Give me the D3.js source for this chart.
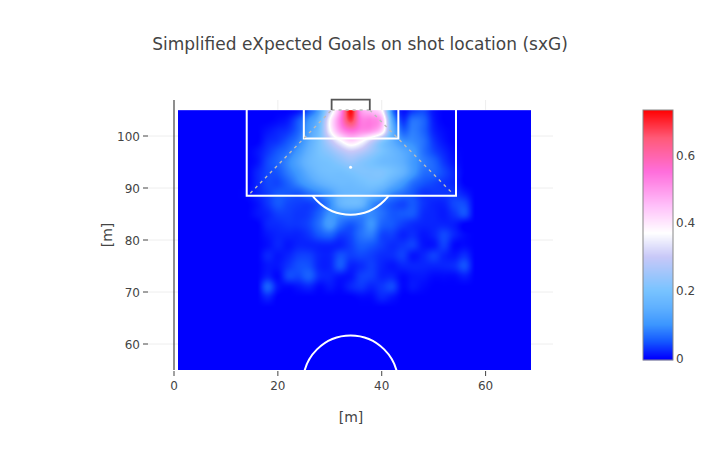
<!DOCTYPE html>
<html><head><meta charset="utf-8">
<script src="https://cdnjs.cloudflare.com/ajax/libs/d3/7.8.5/d3.min.js"></script>
<style>html,body{margin:0;padding:0;background:#fff}svg{display:block}text{font-family:"DejaVu Sans",sans-serif;fill:#444}</style>
</head><body><div id="c"></div>
<script>
const titleText = "Simplified eXpected Goals on shot location (sxG)";
const xTicks = [0,20,40,60];
const yTicks = [60,70,80,90,100];
const barTicks = [0,0.2,0.4,0.6];
const barTickLabels = ["0","0.2","0.4","0.6"];
const colorValues = [0,0.05,0.1,0.15,0.2,0.3,0.37,0.45,0.55,0.65,0.733];
const colorList = ["#0000ff","#1458ff","#3c96ff","#5fb0ff","#78c3ff","#c8c8f8","#ffffff","#ffc0fa","#ff6edc","#ff5a78","#ff0000"];
const gridX = [12,14,16,18,20,22,24,26,28,30,32,34,36,38,40,42,44,46,48,50,52,54,56,58,60];
const gridY = [105,103,101,99,97,95,93,91,89,87,85,83,81,79,77,75,73,71,69,67];
const sxg = [
[0,0,0,0,0,0,.01,.05,.12,.3,.49,.73,.5,.45,.38,.08,.01,.03,.04,.01,0,0,0,0,0],
[0,0,0,0,.005,.015,.05,.1,.17,.37,.53,.68,.54,.53,.47,.14,.03,.07,.06,.015,0,0,0,0,0],
[0,0,0,.01,.02,.03,.06,.12,.19,.36,.49,.55,.52,.5,.42,.17,.06,.08,.06,.02,.005,0,0,0,0],
[0,0,0,.02,.03,.05,.08,.14,.2,.28,.36,.42,.38,.3,.22,.15,.1,.09,.07,.03,.01,0,0,0,0],
[0,0,.01,.03,.05,.07,.11,.16,.2,.23,.27,.3,.28,.24,.2,.17,.14,.11,.07,.04,.02,.005,0,0,0],
[0,0,.01,.04,.06,.09,.13,.17,.19,.2,.22,.24,.22,.2,.18,.17,.15,.11,.08,.06,.03,.01,0,0,0],
[0,0,.02,.04,.05,.08,.11,.15,.18,.19,.19,.2,.21,.21,.21,.19,.16,.11,.07,.06,.04,.02,0,0,0],
[0,0,.02,.04,.04,.06,.09,.12,.15,.17,.18,.18,.19,.2,.19,.15,.11,.07,.05,.04,.03,.02,0,0,0],
[0,.005,.02,.035,.05,.05,.05,.07,.09,.12,.16,.17,.17,.16,.13,.09,.07,.05,.03,.03,.03,.03,.015,0,0],
[0,0,.01,.03,.05,.04,.035,.035,.05,.09,.16,.18,.17,.1,.07,.05,.04,.05,.03,.02,.02,.04,.04,0,0],
[0,0,.01,.02,.035,.035,.03,.035,.06,.1,.1,.1,.09,.09,.07,.05,.05,.05,.025,.02,.015,.03,.045,0,0],
[0,0,0,.02,.025,.03,.03,.04,.07,.11,.07,.05,.07,.1,.06,.05,.035,.025,.02,.02,.02,.015,0,0,0],
[0,0,0,.012,.02,.02,.02,.03,.05,.06,.035,.04,.07,.08,.04,.035,.02,.025,.012,.02,.04,.02,.005,0,0],
[0,0,0,.008,.02,.012,.02,.02,.02,.02,.02,.035,.055,.05,.035,.025,.03,.035,.012,.012,.035,.005,.005,0,0],
[0,0,0,.02,.012,.02,.035,.035,.02,.02,.045,.035,.04,.035,.025,.025,.035,.012,.02,.035,.02,.012,.025,0,0],
[0,0,0,.012,.012,.03,.045,.045,.02,.02,.05,.02,.025,.035,.02,.012,.02,.02,.02,.02,.02,.025,.045,0,0],
[0,0,0,.018,.005,.04,.04,.055,.025,.02,.012,.012,.035,.035,.02,.02,.005,.012,.012,.005,.005,.005,.015,0,0],
[0,0,0,.055,.012,.005,.012,.02,.005,.012,.005,.02,.03,.02,.03,.04,.005,.012,.005,0,0,0,0,0,0],
[0,0,0,.02,0,0,0,0,0,0,0,0,.005,.005,.02,.012,0,0,0,0,0,0,0,0,0],
[0,0,0,0,0,0,0,0,0,0,0,0,0,0,0,0,0,0,0,0,0,0,0,0,0]
];
const pitchMinX = 0.75, pitchMaxX = 68.75, pitchMinY = 55, pitchMaxY = 105;
const penaltyBox = [[14,105],[14,88.5],[54.3,88.5],[54.3,105]];
const sixBox = [[25,105],[25,99.5],[43.2,99.5],[43.2,105]];
const goalFrame = [[30.35,105],[30.35,107],[37.7,107],[37.7,105]];
const goalLine = [[30.35,105],[37.7,105]];
const sightLeft = [[14.7,89],[30.35,105]];
const sightRight = [[37.7,105],[53.6,89]];
const spot = [34,94];
const boxArcCentre = [34,94], centreCircle = [34,52.5], circleRadius = 9.15;

const W=720,H=450;
const svg=d3.select("#c").append("svg").attr("width",W).attr("height",H);
const x=d3.scaleLinear().domain([0,60]).range([174,485.6]);
const y=d3.scaleLinear().domain([60,100]).range([344,136]);
const z=d3.scaleLinear().domain(colorValues).range(colorList).interpolate(d3.interpolateRgb).clamp(true);

const plotL=148,plotR=553,plotT=100,plotB=370;
svg.append("g").selectAll("line").data(yTicks).join("line")
 .attr("x1",plotL).attr("x2",plotR).attr("y1",d=>y(d)).attr("y2",d=>y(d)).attr("stroke","#eee");
svg.append("g").selectAll("line").data(xTicks.slice(1)).join("line")
 .attr("x1",d=>x(d)).attr("x2",d=>x(d)).attr("y1",plotT).attr("y2",plotB).attr("stroke","#eee");

function cr(p0,p1,p2,p3,t){return 0.5*((2*p1)+(-p0+p2)*t+(2*p0-5*p1+4*p2-p3)*t*t+(-p0+3*p1-3*p2+p3)*t*t*t);}
const nr=gridY.length,nc=gridX.length;
function val(px,py){
  if(py<gridY[nr-1]) return 0;
  if(px<gridX[0]||px>gridX[nc-1]) return 0;
  const fx=Math.max(0,Math.min(nc-1.0001,(px-gridX[0])/2)), fy=Math.max(0,Math.min(nr-1.0001,(gridY[0]-py)/2));
  const i=Math.floor(fx),j=Math.floor(fy),tx=fx-i,ty=fy-j,rows=[];
  for(let r=-1;r<=2;r++){
    const R=sxg[Math.max(0,Math.min(nr-1,j+r))];
    rows.push(cr(R[Math.max(0,i-1)],R[i],R[Math.min(nc-1,i+1)],R[Math.min(nc-1,i+2)],tx));
  }
  return Math.max(0,cr(rows[0],rows[1],rows[2],rows[3],ty));
}
const hx0=Math.round(x(pitchMinX)),hx1=Math.round(x(pitchMaxX)),hy0=Math.round(y(pitchMaxY)),hy1=Math.round(y(pitchMinY));
const cv=document.createElement("canvas");cv.width=hx1-hx0;cv.height=hy1-hy0;
const ctx=cv.getContext("2d");
for(let py=hy0;py<hy1;py++)for(let px=hx0;px<hx1;px++){
  ctx.fillStyle=z(val(x.invert(px+.5),y.invert(py+.5)));
  ctx.fillRect(px-hx0,py-hy0,1,1);
}
svg.append("image").attr("x",hx0).attr("y",hy0).attr("width",cv.width).attr("height",cv.height).attr("href",cv.toDataURL());

const line=d3.line().x(d=>x(d[0])).y(d=>y(d[1]));
svg.append("defs").append("clipPath").attr("id","hc").append("rect").attr("x",hx0).attr("y",hy0).attr("width",cv.width).attr("height",cv.height);
const pitch=svg.append("g").attr("fill","none");
pitch.append("path").attr("d",line([[pitchMinX,pitchMaxY],[pitchMaxX,pitchMaxY]])).attr("stroke","#fff").attr("stroke-opacity",.35).attr("stroke-width",1);
const rPx=x(circleRadius)-x(0);
pitch.append("path").attr("clip-path","url(#hc)")
  .attr("d",`M${x(centreCircle[0])-rPx},${y(centreCircle[1])}a${rPx},${rPx} 0 0 1 ${2*rPx},0`).attr("stroke","#fff").attr("stroke-width",2);
svg.append("clipPath").attr("id","ac").append("rect").attr("x",hx0).attr("y",y(88.5)).attr("width",cv.width).attr("height",60);
pitch.append("circle").attr("clip-path","url(#ac)").attr("cx",x(boxArcCentre[0])).attr("cy",y(boxArcCentre[1])).attr("r",rPx).attr("stroke","#fff").attr("stroke-width",2);
pitch.append("path").attr("d",line(penaltyBox)).attr("stroke","#fff").attr("stroke-width",2);
pitch.append("path").attr("d",line(sixBox)).attr("stroke","#fff").attr("stroke-width",2);
[sightLeft,sightRight,goalLine].forEach(s=>pitch.append("path").attr("d",line(s)).attr("stroke","#bbb").attr("stroke-width",1.4).attr("stroke-dasharray","3,4"));
pitch.append("path").attr("d",line(goalFrame)).attr("stroke","#555").attr("stroke-width",1.8);
svg.append("circle").attr("cx",x(spot[0])).attr("cy",y(spot[1])).attr("r",1.5).attr("fill","#fff");

svg.append("line").attr("x1",x(0)).attr("x2",x(0)).attr("y1",plotT).attr("y2",plotB).attr("stroke","#444").attr("stroke-width",1.2);
svg.append("g").selectAll("line").data(xTicks).join("line").attr("x1",d=>x(d)).attr("x2",d=>x(d)).attr("y1",371).attr("y2",376).attr("stroke","#444");
svg.append("g").selectAll("text").data(xTicks).join("text").attr("x",d=>x(d)).attr("y",390).attr("text-anchor","middle").attr("font-size",12).text(d=>d);
svg.append("g").selectAll("line").data(yTicks).join("line").attr("x1",143).attr("x2",148).attr("y1",d=>y(d)).attr("y2",d=>y(d)).attr("stroke","#444");
svg.append("g").selectAll("text").data(yTicks).join("text").attr("x",140).attr("y",d=>y(d)+4.5).attr("text-anchor","end").attr("font-size",12).text(d=>d);
svg.append("text").attr("x",351).attr("y",422).attr("text-anchor","middle").attr("font-size",14).text("[m]");
svg.append("text").attr("transform","translate(112,235) rotate(-90)").attr("text-anchor","middle").attr("font-size",14).text("[m]");
svg.append("text").attr("x",360).attr("y",50).attr("text-anchor","middle").attr("font-size",17).text(titleText);

const cb=d3.scaleLinear().domain([0,0.6]).range([358.5,155]);
const steps=d3.range(110,360);
svg.append("g").selectAll("rect").data(steps).join("rect").attr("x",643).attr("width",30).attr("y",d=>d).attr("height",1.2)
  .attr("fill",d=>z(Math.max(0,cb.invert(d+.5))));
svg.append("rect").attr("x",643).attr("y",110).attr("width",30).attr("height",250).attr("fill","none").attr("stroke","#888").attr("stroke-width",1);
svg.append("g").selectAll("text").data(barTicks).join("text").attr("x",676).attr("y",d=>cb(d)+4.5).attr("font-size",12).text((d,i)=>barTickLabels[i]);
</script></body></html>
